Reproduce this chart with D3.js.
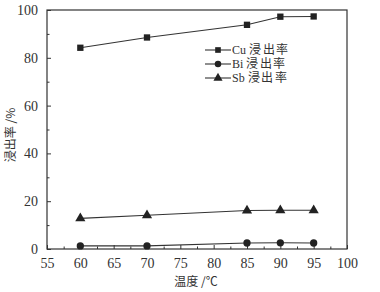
<!DOCTYPE html>
<html lang="zh-CN"><head><meta charset="utf-8">
<script src="https://cdn.jsdelivr.net/npm/d3@7"></script>
<style>body{margin:0;background:#fff}</style>
</head><body><svg id="c" width="380" height="292"></svg>
<script>
const temps = [60, 70, 85, 90, 95];
const cuValues = [84.2, 88.5, 93.8, 97.2, 97.3];
const biValues = [1.3, 1.3, 2.5, 2.6, 2.5];
const sbValues = [12.8, 14.1, 16.1, 16.2, 16.2];
const xTicks = [55, 60, 65, 70, 75, 80, 85, 90, 95, 100];
const yTicks = [0, 20, 40, 60, 80, 100];
const seriesNames = ["Cu 浸出率", "Bi 浸出率", "Sb 浸出率"];
const xLabel = "温度 /℃";
const yLabel = "浸出率 /%";

const svg = d3.select("#c");
const col = "#333";
const x = d3.scaleLinear().domain([55, 100]).range([47, 347]);
const y = d3.scaleLinear().domain([0, 100]).range([249, 10]);
const numFont = "'Liberation Serif', serif";
const cjkFont = "'Noto Sans CJK SC', sans-serif";

// frame
svg.append("rect").attr("x", x(55)).attr("y", y(100)).attr("width", x(100)-x(55)).attr("height", y(0)-y(100))
  .attr("fill", "none").attr("stroke", col).attr("stroke-width", 1.2);

// x axis
const xa = svg.append("g").attr("transform", `translate(0,${y(0)})`)
  .call(d3.axisBottom(x).tickValues(xTicks).tickSize(-4).tickPadding(9));
const xm = svg.append("g").attr("transform", `translate(0,${y(0)})`)
  .call(d3.axisBottom(x).tickValues(d3.range(57.5, 100, 5)).tickSize(-2.5).tickFormat(""));
// y axis
const ya = svg.append("g").attr("transform", `translate(${x(55)},0)`)
  .call(d3.axisLeft(y).tickValues(yTicks).tickSize(-4).tickPadding(9));
const ym = svg.append("g").attr("transform", `translate(${x(55)},0)`)
  .call(d3.axisLeft(y).tickValues(d3.range(10, 100, 20)).tickSize(-2.5).tickFormat(""));
[xa, xm, ya, ym].forEach(g => {
  g.select(".domain").remove();
  g.selectAll("line").attr("stroke", col);
  g.selectAll("text").attr("fill", col).attr("font-family", numFont).attr("font-size", 14);
});

// axis labels
svg.append("text").attr("x", 196).attr("y", 286).attr("text-anchor", "middle")
  .attr("font-family", cjkFont).attr("font-size", 12).attr("fill", col).text(xLabel);
svg.append("text").attr("transform", `translate(15,${135}) rotate(-90)`).attr("text-anchor", "middle")
  .attr("font-family", cjkFont).attr("font-size", 12).attr("fill", col).text(yLabel);

const line = d3.line().x((d, i) => x(temps[i])).y(d => y(d));
const series = [cuValues, biValues, sbValues];
const shapes = [d3.symbolSquare, d3.symbolCircle, d3.symbolTriangle];
const sizes = [40, 42, 45];

series.forEach((vals, k) => {
  svg.append("path").attr("d", line(vals)).attr("fill", "none").attr("stroke", col).attr("stroke-width", 1.1);
  svg.selectAll(null).data(vals).enter().append("path")
    .attr("transform", (d, i) => `translate(${x(temps[i])},${y(d)})`)
    .attr("d", d3.symbol().type(shapes[k]).size(sizes[k])).attr("fill", "#222");
});

// legend
const lg = svg.append("g");
seriesNames.forEach((n, k) => {
  const ly = 50 + k * 14;
  lg.append("line").attr("x1", 205).attr("x2", 231).attr("y1", ly).attr("y2", ly).attr("stroke", col).attr("stroke-width", 1.1);
  lg.append("path").attr("transform", `translate(218,${ly})`).attr("d", d3.symbol().type(shapes[k]).size(sizes[k] * 0.8)).attr("fill", "#222");
  const t = lg.append("text").attr("x", 232).attr("y", ly + 4).attr("fill", col)
    .attr("font-size", 12).attr("font-family", numFont);
  const parts = n.split(" ");
  t.append("tspan").text(parts[0] + " ");
  t.append("tspan").attr("letter-spacing", 1.5).text(parts[1]);
});
</script></body></html>
